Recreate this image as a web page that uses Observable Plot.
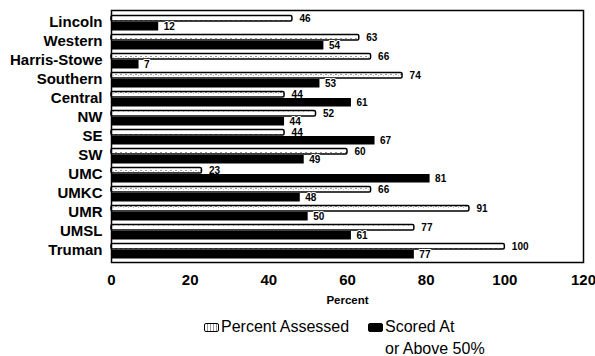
<!DOCTYPE html>
<html>
<head>
<meta charset="utf-8">
<script src="https://cdn.jsdelivr.net/npm/d3@7"></script>
<script src="https://cdn.jsdelivr.net/npm/@observablehq/plot@0.6"></script>
<style>
  body { margin: 0; background: #fff; font-family: "Liberation Sans", Arial, sans-serif; }
  #wrap { position: relative; width: 595px; height: 356px; overflow: hidden; }
  .legend { position: absolute; font-size: 16px; color: #000; line-height: 22px; white-space: nowrap; }
  .sw { position: absolute; width: 13px; height: 7px; border: 1.5px solid #000; border-radius: 2px; }
</style>
</head>
<body>
<div id="wrap">
  <div id="chart"></div>
  <span class="sw" style="left:204px; top:323px; background: repeating-linear-gradient(90deg,#fff 0 2px,#999 2px 3px);"></span>
  <div class="legend" style="left:221px; top:316px;">Percent Assessed</div>
  <span class="sw" style="left:368px; top:323px; background:#000;"></span>
  <div class="legend" style="left:385px; top:316px;">Scored At<br>or Above 50%</div>
</div>
<script>
const schools = ["Lincoln","Western","Harris-Stowe","Southern","Central","NW","SE","SW","UMC","UMKC","UMR","UMSL","Truman"];
const assessed = [46, 63, 66, 74, 44, 52, 44, 60, 23, 66, 91, 77, 100];
const scored   = [12, 54, 7, 53, 61, 44, 67, 49, 81, 48, 50, 61, 77];
const xTicks = [0, 20, 40, 60, 80, 100, 120];
const xLabel = "Percent";

const rows = schools.map((s, i) => ({school: s, assessed: assessed[i], scored: scored[i]}));

const chart = Plot.plot({
  width: 595,
  height: 310,
  marginLeft: 111,
  marginRight: 12,
  marginTop: 10,
  marginBottom: 48,
  style: {fontFamily: "'Liberation Sans', Arial, sans-serif", color: "#000", background: "#fff"},
  x: {domain: [0, 120], ticks: xTicks},
  y: {domain: schools, padding: 0},
  marks: [
    Plot.barX(rows, {y: "school", x: "assessed", insetTop: 2.5, insetBottom: 11, fill: "url(#assessPat)", stroke: "#000", strokeWidth: 1.5, rx: 1.5}),
    Plot.barX(rows, {y: "school", x: "scored", insetTop: 9, insetBottom: 1.5, fill: "#000"}),
    Plot.text(rows, {y: "school", x: "assessed", text: d => String(d.assessed), dx: 7, dy: -4.3, textAnchor: "start", fontWeight: "bold", fontSize: 10, fill: "#000"}),
    Plot.text(rows, {y: "school", x: "scored", text: d => String(d.scored), dx: 5, dy: 3.3, textAnchor: "start", fontWeight: "bold", fontSize: 10, fill: "#000", stroke: "#fff", strokeWidth: 2, paintOrder: "stroke"}),
    Plot.frame({stroke: "#000", strokeWidth: 1.5}),
    Plot.axisX({ticks: xTicks, tickSize: 0, tickPadding: 12, fontSize: 15, fontWeight: "bold", label: null}),
    Plot.axisY({tickSize: 0, tickPadding: 9, fontSize: 15, fontWeight: "bold", label: null, dy: -1}),
    Plot.text([xLabel], {frameAnchor: "bottom", text: d => d, dy: 38, lineAnchor: "middle", fontSize: 11.5, fontWeight: "bold", fill: "#000"})
  ]
});

// pattern for "Percent Assessed" bars
const ns = "http://www.w3.org/2000/svg";
const defs = document.createElementNS(ns, "defs");
defs.innerHTML = `<pattern id="assessPat" patternUnits="userSpaceOnUse" width="5" height="6">
  <rect width="5" height="6" fill="#fff"/>
  <rect x="0" y="2" width="2" height="1" fill="#999"/>
  <rect x="3" y="3" width="1" height="1" fill="#bbb"/>
</pattern>`;
chart.insertBefore(defs, chart.firstChild);

document.getElementById("chart").appendChild(chart);
</script>
</body>
</html>
